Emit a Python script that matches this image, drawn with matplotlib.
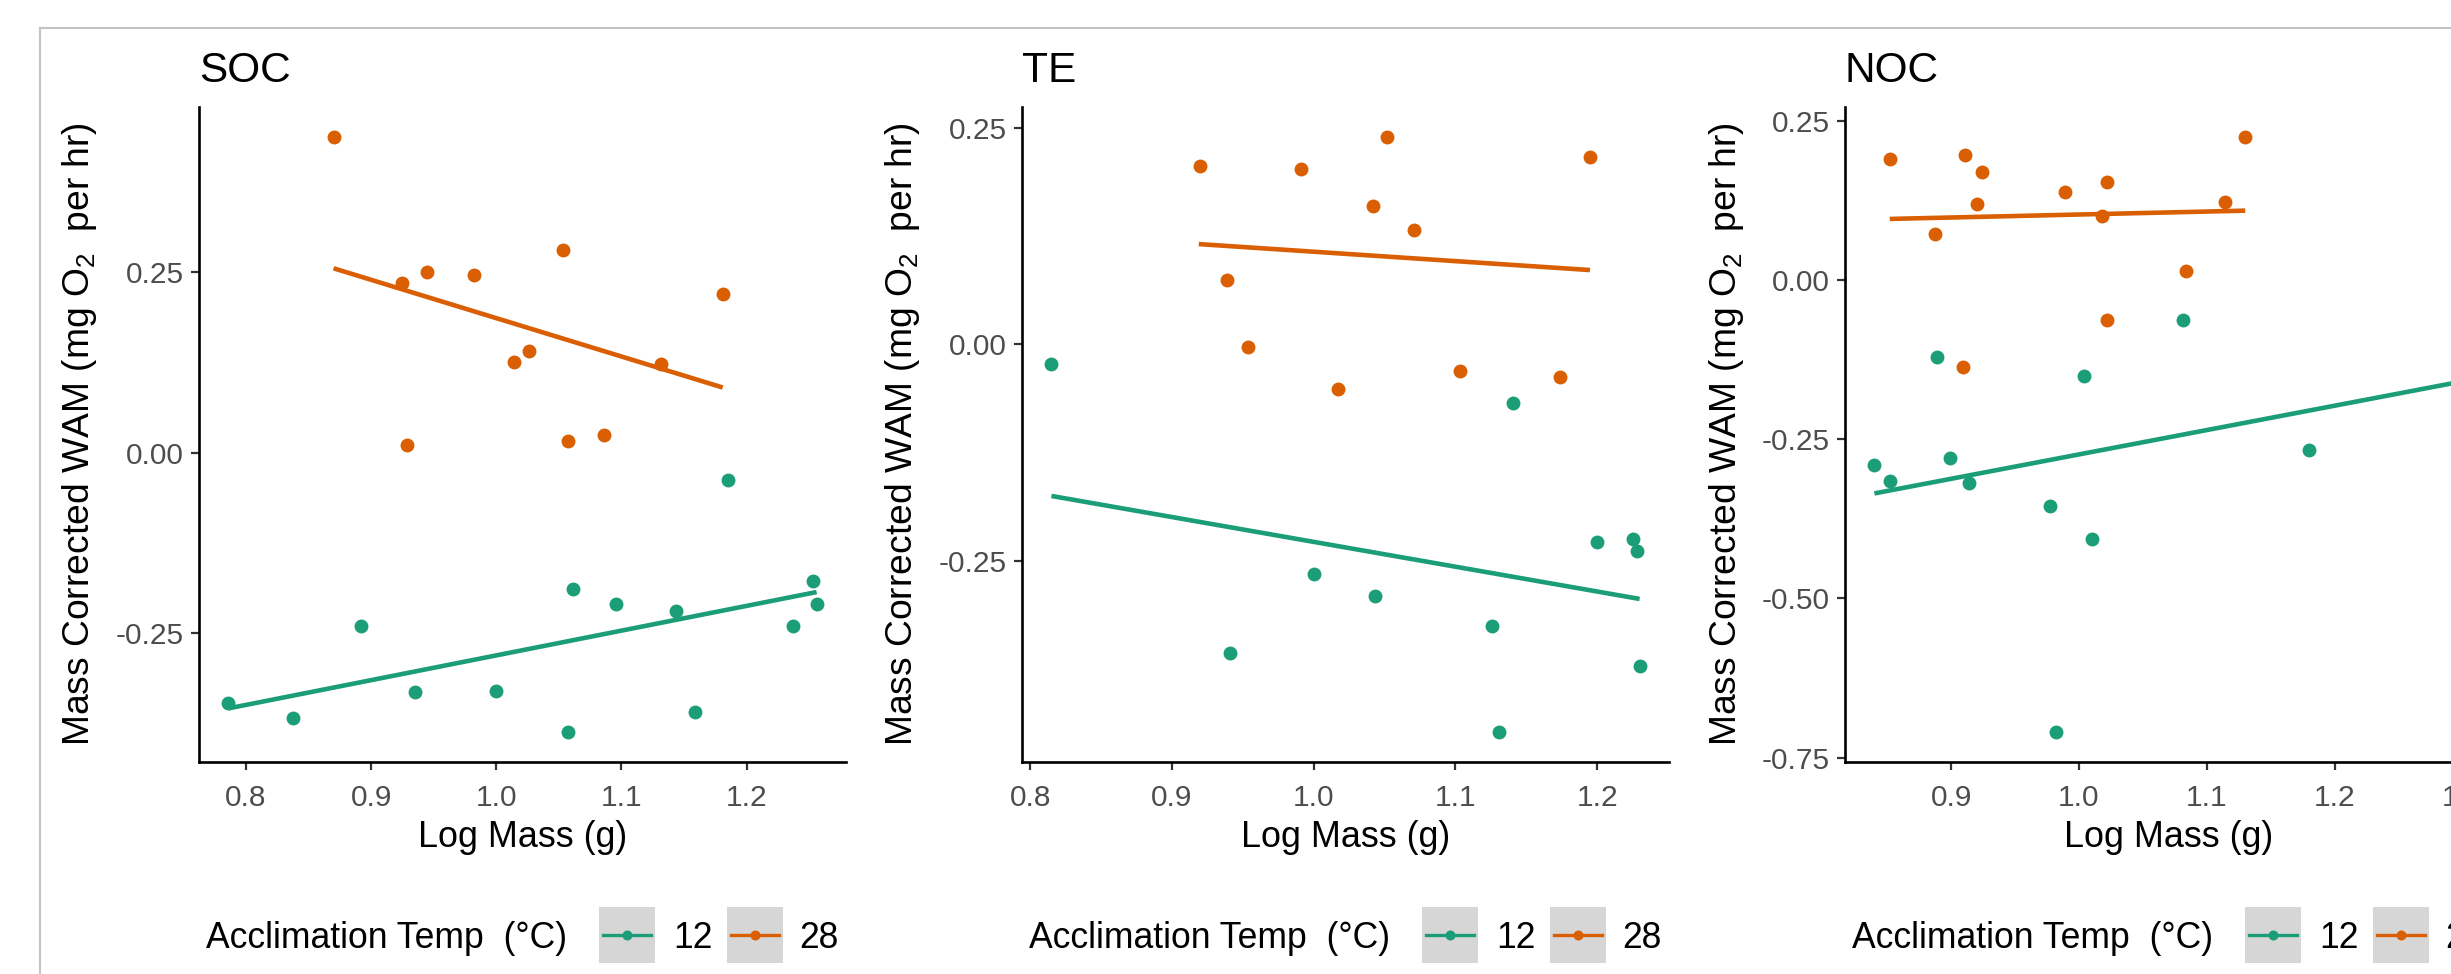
import matplotlib
matplotlib.use('Agg')
import matplotlib.pyplot as plt
from matplotlib.transforms import Affine2D
from matplotlib.patches import Rectangle
from matplotlib.lines import Line2D
from matplotlib.ticker import FormatStrFormatter

plt.rcParams['font.family'] = ['Liberation Sans', 'DejaVu Sans']
plt.rcParams['mathtext.fontset'] = 'custom'
plt.rcParams['mathtext.rm'] = 'Liberation Sans'
plt.rcParams['mathtext.it'] = 'Liberation Sans:italic'
plt.rcParams['mathtext.bf'] = 'Liberation Sans:bold'
plt.rcParams['axes.unicode_minus'] = False

# ---------------- data ----------------
panel_titles = ['SOC', 'TE', 'NOC']
group_labels = ['12', '28']
group_colors = ['#1B9E77', '#D95F02']

soc_x12 = [0.786, 0.838, 0.892, 0.935, 1.000, 1.057, 1.061, 1.096, 1.144, 1.159, 1.185, 1.237, 1.253, 1.256]
soc_y12 = [-0.347, -0.367, -0.240, -0.332, -0.330, -0.387, -0.189, -0.209, -0.219, -0.359, -0.038, -0.240, -0.178, -0.209]
soc_x28 = [0.870, 0.925, 0.945, 0.982, 1.053, 1.181, 1.014, 1.026, 1.132, 0.929, 1.057, 1.086]
soc_y28 = [0.437, 0.235, 0.250, 0.246, 0.280, 0.219, 0.126, 0.140, 0.123, 0.010, 0.016, 0.024]
soc_fit_x12 = [0.786, 1.256]
soc_fit_y12 = [-0.354, -0.193]
soc_fit_x28 = [0.870, 1.181]
soc_fit_y28 = [0.255, 0.090]

te_x12 = [0.815, 1.141, 1.000, 1.043, 0.941, 1.126, 1.131, 1.200, 1.225, 1.228, 1.230]
te_y12 = [-0.023, -0.068, -0.265, -0.291, -0.356, -0.325, -0.448, -0.228, -0.225, -0.239, -0.371]
te_x28 = [0.920, 0.991, 1.052, 1.042, 1.071, 1.195, 0.939, 0.954, 1.017, 1.103, 1.174]
te_y28 = [0.206, 0.203, 0.240, 0.160, 0.132, 0.217, 0.074, -0.003, -0.051, -0.031, -0.037]
te_fit_x12 = [0.815, 1.230]
te_fit_y12 = [-0.175, -0.294]
te_fit_x28 = [0.919, 1.195]
te_fit_y28 = [0.116, 0.086]

noc_x12 = [0.840, 0.852, 0.899, 0.914, 0.889, 1.004, 1.081, 0.977, 1.010, 0.982, 1.180, 1.300]
noc_y12 = [-0.291, -0.315, -0.280, -0.318, -0.121, -0.151, -0.063, -0.354, -0.407, -0.710, -0.267, -0.083]
noc_x28 = [0.852, 0.911, 0.924, 0.920, 0.887, 0.989, 1.022, 1.018, 1.130, 1.114, 1.084, 1.022, 0.909]
noc_y28 = [0.190, 0.197, 0.170, 0.119, 0.073, 0.139, 0.154, 0.100, 0.225, 0.123, 0.015, -0.063, -0.137]
noc_fit_x12 = [0.840, 1.300]
noc_fit_y12 = [-0.335, -0.159]
noc_fit_x28 = [0.852, 1.130]
noc_fit_y28 = [0.096, 0.109]

soc_xticks = [0.8, 0.9, 1.0, 1.1, 1.2]
soc_yticks = [-0.25, 0.00, 0.25]
te_xticks = [0.8, 0.9, 1.0, 1.1, 1.2]
te_yticks = [-0.25, 0.00, 0.25]
noc_xticks = [0.9, 1.0, 1.1, 1.2, 1.3]
noc_yticks = [-0.75, -0.50, -0.25, 0.00, 0.25]

x_title = 'Log Mass (g)'
y_title = r'Mass Corrected WAM (mg O$_{2}$  per hr)'
legend_title = 'Acclimation Temp  (\u00b0C)'

panels = [
    dict(x12=soc_x12, y12=soc_y12, x28=soc_x28, y28=soc_y28,
         fx12=soc_fit_x12, fy12=soc_fit_y12, fx28=soc_fit_x28, fy28=soc_fit_y28,
         xt=soc_xticks, yt=soc_yticks),
    dict(x12=te_x12, y12=te_y12, x28=te_x28, y28=te_y28,
         fx12=te_fit_x12, fy12=te_fit_y12, fx28=te_fit_x28, fy28=te_fit_y28,
         xt=te_xticks, yt=te_yticks),
    dict(x12=noc_x12, y12=noc_y12, x28=noc_x28, y28=noc_y28,
         fx12=noc_fit_x12, fy12=noc_fit_y12, fx28=noc_fit_x28, fy28=noc_fit_y28,
         xt=noc_xticks, yt=noc_yticks),
]

# ---------------- layout (pixels) ----------------
W, H, DPI = 2451, 974, 100
fig = plt.figure(figsize=(W / DPI, H / DPI), dpi=DPI)
fig.patch.set_facecolor('white')
px = Affine2D().scale(1.0 / W, -1.0 / H).translate(0, 1) + fig.transFigure

AX_LEFT = [199, 1022, 1845]
AX_W = 647
AX_TOP, AX_BOT = 107, 762

TITLE_FS = 30.5
AXTITLE_FS = 25.8
YTITLE_FS = 26.8
TICK_FS = 21.5
LEG_FS = 25.6
TICK_COL = '#4D4D4D'


def expand(vals, frac=0.05):
    lo, hi = min(vals), max(vals)
    r = hi - lo
    return lo - frac * r, hi + frac * r


for i, p in enumerate(panels):
    L = AX_LEFT[i]
    ax = fig.add_axes([L / W, 1 - AX_BOT / H, AX_W / W, (AX_BOT - AX_TOP) / H])
    ax.scatter(p['x12'], p['y12'], s=100, color=group_colors[0], linewidths=0, zorder=2)
    ax.scatter(p['x28'], p['y28'], s=100, color=group_colors[1], linewidths=0, zorder=2)
    ax.plot(p['fx12'], p['fy12'], color=group_colors[0], lw=3.3, zorder=3, solid_capstyle='butt')
    ax.plot(p['fx28'], p['fy28'], color=group_colors[1], lw=3.3, zorder=3, solid_capstyle='butt')

    ax.set_xlim(*expand(p['x12'] + p['x28']))
    ax.set_ylim(*expand(p['y12'] + p['y28']))
    ax.set_xticks(p['xt'])
    ax.set_yticks(p['yt'])
    ax.xaxis.set_major_formatter(FormatStrFormatter('%.1f'))
    ax.yaxis.set_major_formatter(FormatStrFormatter('%.2f'))

    for s in ['top', 'right']:
        ax.spines[s].set_visible(False)
    for s in ['left', 'bottom']:
        ax.spines[s].set_linewidth(1.9)
        ax.spines[s].set_color('black')
    ax.tick_params(axis='both', direction='out', length=6, width=1.6, color='#333333',
                   labelsize=TICK_FS, labelcolor=TICK_COL)
    ax.tick_params(axis='x', pad=10)
    ax.tick_params(axis='y', pad=5)
    ax.set_facecolor('none')

    # titles
    fig.text(L, 82, panel_titles[i], transform=px, ha='left', va='baseline',
             fontsize=TITLE_FS, color='black')
    fig.text(L + AX_W / 2, 847, x_title, transform=px, ha='center', va='baseline',
             fontsize=AXTITLE_FS, color='black')
    fig.text(L - 119, (AX_TOP + AX_BOT) / 2, y_title, transform=px, ha='center', va='center',
             rotation=90, fontsize=YTITLE_FS, color='black')

    # legend
    fig.text(L + 7, 948, legend_title, transform=px, ha='left', va='baseline',
             fontsize=LEG_FS, color='black')
    key_x = [L + 400, L + 528]
    lab_x = [L + 474, L + 600]
    for k in range(2):
        fig.add_artist(Rectangle((key_x[k], 907), 56, 56, transform=px,
                                 facecolor='#D6D6D6', edgecolor='none'))
        fig.add_artist(Line2D([key_x[k] + 4, key_x[k] + 52], [935, 935], transform=px,
                              color=group_colors[k], lw=2.4))
        fig.add_artist(Line2D([key_x[k] + 28], [935], transform=px, marker='o', ms=7.2,
                              mec='none', color=group_colors[k]))
        fig.text(lab_x[k], 948, group_labels[k], transform=px, ha='left', va='baseline',
                 fontsize=LEG_FS, color='black')

# outer border of the viewer frame
fig.add_artist(Line2D([40, W + 20], [28, 28], transform=px, color='#C4C4C4', lw=1.5))
fig.add_artist(Line2D([40, 40], [28, H + 20], transform=px, color='#C4C4C4', lw=1.5))

fig.savefig('out.png', dpi=DPI)
